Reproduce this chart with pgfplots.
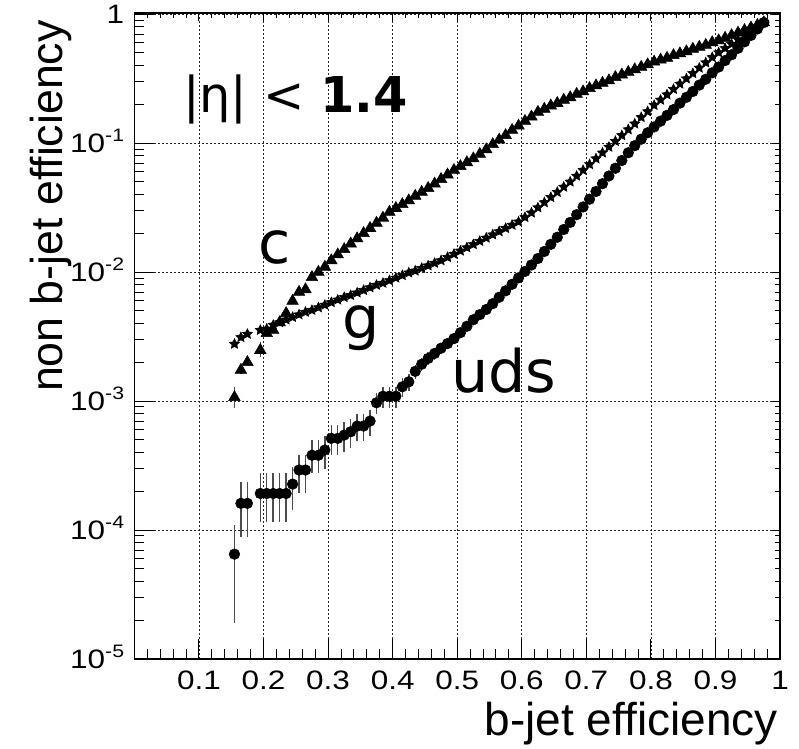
\documentclass[border=0pt]{standalone}
\usepackage{fontspec}
\setmainfont{Liberation Sans}
\newfontfamily\dejavu{DejaVu Sans}
\newfontfamily\tickfont[FakeStretch=1.18]{Liberation Sans}
\usepackage{pgfplots}
\usepackage{pgfplotstable}
\pgfplotsset{compat=1.18}

% filled five-pointed star marker
\pgfdeclareplotmark{fullstar}{%
  \pgfpathmoveto{\pgfpointpolar{90}{\pgfplotmarksize}}%
  \pgfpathlineto{\pgfpointpolar{126}{0.48\pgfplotmarksize}}%
  \pgfpathlineto{\pgfpointpolar{162}{\pgfplotmarksize}}%
  \pgfpathlineto{\pgfpointpolar{198}{0.48\pgfplotmarksize}}%
  \pgfpathlineto{\pgfpointpolar{234}{\pgfplotmarksize}}%
  \pgfpathlineto{\pgfpointpolar{270}{0.48\pgfplotmarksize}}%
  \pgfpathlineto{\pgfpointpolar{306}{\pgfplotmarksize}}%
  \pgfpathlineto{\pgfpointpolar{342}{0.48\pgfplotmarksize}}%
  \pgfpathlineto{\pgfpointpolar{18}{\pgfplotmarksize}}%
  \pgfpathlineto{\pgfpointpolar{54}{0.48\pgfplotmarksize}}%
  \pgfpathclose\pgfusepathqfillstroke}

% power-of-ten tick label: base digits with a raised exponent
\newcommand{\tenpow}[1]{10\raisebox{8pt}{\fontsize{13.5}{13.5}\selectfont #1}}

% b-jet efficiency vs mistag rate for c, g and uds jets
% u: uds efficiency, up/um: its error bars; cp/cm: error bars of c
\pgfplotstableread{
x      c        g         u         up      um      cp      cm
0.155  1.07e-3  2.77e-3   6.5e-5    4.5e-5  4.6e-5  2.2e-4  1.9e-4
0.165  1.74e-3  3.12e-3   1.61e-4   7.6e-5  7.2e-5  1.2e-4  1.2e-4
0.175  2.0e-3   3.31e-3   1.61e-4   7.6e-5  7.2e-5  1.0e-4  1.0e-4
0.195  2.48e-3  3.55e-3   1.92e-4   8.3e-5  7.6e-5  4.0e-4  3.0e-4
0.205  3.35e-3  3.63e-3   1.92e-4   8.3e-5  7.6e-5  0       0
0.215  3.55e-3  3.89e-3   1.92e-4   8.3e-5  7.6e-5  0       0
0.225  4.07e-3  4.07e-3   1.92e-4   8.3e-5  7.6e-5  0       0
0.235  4.79e-3  4.27e-3   1.92e-4   8.3e-5  7.6e-5  0       0
0.245  5.96e-3  4.47e-3   2.27e-4   8.3e-5  8.4e-5  0       0
0.255  7.0e-3   4.68e-3   2.92e-4   8.9e-5  1.0e-4  0       0
0.265  7.33e-3  4.90e-3   2.92e-4   8.9e-5  1.0e-4  0       0
0.275  9.12e-3  5.07e-3   3.8e-4    1.19e-4 1.05e-4 0       0
0.285  1.0e-2   5.31e-3   3.8e-4    1.19e-4 1.05e-4 0       0
0.295  1.096e-2 5.56e-3   4.17e-4   1.2e-4  1.2e-4  0       0
0.305  1.23e-2  5.82e-3   5.14e-4   1.36e-4 1.34e-4 0       0
0.315  1.365e-2 6.10e-3   5.14e-4   1.36e-4 1.34e-4 0       0
0.325  1.50e-2  6.38e-3   5.45e-4   1.4e-4  1.4e-4  0       0
0.335  1.66e-2  6.61e-3   5.78e-4   1.45e-4 1.45e-4 0       0
0.345  1.82e-2  6.92e-3   6.4e-4    1.5e-4  1.5e-4  0       0
0.355  2.0e-2   7.24e-3   6.4e-4    1.5e-4  1.5e-4  0       0
0.365  2.19e-2  7.59e-3   7.0e-4    1.6e-4  1.6e-4  0       0
0.375  2.40e-2  7.94e-3   9.7e-4    1.8e-4  1.8e-4  0       0
0.385  2.63e-2  8.22e-3   1.09e-3   2.0e-4  2.0e-4  0       0
0.395  2.92e-2  8.61e-3   1.09e-3   2.0e-4  2.0e-4  0       0
0.405  3.13e-2  9.02e-3   1.09e-3   2.0e-4  2.0e-4  0       0
0.415  3.35e-2  9.44e-3   1.29e-3   2.1e-4  2.1e-4  0       0
0.425  3.59e-2  9.89e-3   1.41e-3   2.2e-4  2.2e-4  0       0
0.435  3.89e-2  1.023e-2  1.70e-3   2.2e-4  2.2e-4  0       0
0.445  4.17e-2  1.072e-2  1.93e-3   2.3e-4  2.3e-4  0       0
0.455  4.47e-2  1.122e-2  2.14e-3   2.4e-4  2.4e-4  0       0
0.465  4.84e-2  1.175e-2  2.34e-3   2.5e-4  2.5e-4  0       0
0.475  5.25e-2  1.230e-2  2.57e-3   2.6e-4  2.6e-4  0       0
0.485  5.69e-2  1.303e-2  2.79e-3   2.7e-4  2.7e-4  0       0
0.495  6.17e-2  1.380e-2  3.05e-3   2.8e-4  2.8e-4  0       0
0.505  6.61e-2  1.462e-2  3.39e-3   3.0e-4  3.0e-4  0       0
0.515  7.08e-2  1.549e-2  3.80e-3   3.2e-4  3.2e-4  0       0
0.525  7.59e-2  1.641e-2  4.27e-3   3.4e-4  3.4e-4  0       0
0.535  8.22e-2  1.738e-2  4.68e-3   3.6e-4  3.6e-4  0       0
0.545  8.91e-2  1.841e-2  5.13e-3   3.8e-4  3.8e-4  0       0
0.555  9.77e-2  1.950e-2  5.69e-3   4.0e-4  4.0e-4  0       0
0.565  0.106    2.065e-2  6.38e-3   4.2e-4  4.2e-4  0       0
0.575  0.115    2.188e-2  7.16e-3   4.5e-4  4.5e-4  0       0
0.585  0.126    2.317e-2  8.04e-3   4.8e-4  4.8e-4  0       0
0.595  0.136    2.455e-2  9.02e-3   5.0e-4  5.0e-4  0       0
0.605  0.148    2.661e-2  1.012e-2  0       0       0       0
0.615  0.160    2.884e-2  1.135e-2  0       0       0       0
0.625  0.174    3.162e-2  1.274e-2  0       0       0       0
0.635  0.184    3.467e-2  1.445e-2  0       0       0       0
0.645  0.195    3.802e-2  1.641e-2  0       0       0       0
0.655  0.204    4.169e-2  1.862e-2  0       0       0       0
0.665  0.216    4.571e-2  2.138e-2  0       0       0       0
0.675  0.226    5.012e-2  2.427e-2  0       0       0       0
0.685  0.240    5.559e-2  2.786e-2  0       0       0       0
0.695  0.251    6.166e-2  3.199e-2  0       0       0       0
0.705  0.266    6.839e-2  3.673e-2  0       0       0       0
0.715  0.279    7.586e-2  4.217e-2  0       0       0       0
0.725  0.292    8.414e-2  4.842e-2  0       0       0       0
0.735  0.305    9.333e-2  5.559e-2  0       0       0       0
0.745  0.324    0.1035    6.383e-2  0       0       0       0
0.755  0.339    0.1148    7.328e-2  0       0       0       0
0.765  0.355    0.1274    8.414e-2  0       0       0       0
0.775  0.372    0.1413    9.550e-2  0       0       0       0
0.785  0.389    0.1585    0.1072    0       0       0       0
0.795  0.407    0.1758    0.1202    0       0       0       0
0.805  0.427    0.1968    0.1334    0       0       0       0
0.815  0.442    0.2163    0.1479    0       0       0       0
0.825  0.457    0.2377    0.1641    0       0       0       0
0.835  0.479    0.2618    0.1820    0       0       0       0
0.845  0.495    0.2877    0.2042    0       0       0       0
0.855  0.513    0.3162    0.2265    0       0       0       0
0.865  0.537    0.3475    0.2512    0       0       0       0
0.875  0.556    0.3828    0.2818    0       0       0       0
0.885  0.575    0.4207    0.3126    0       0       0       0
0.895  0.603    0.4624    0.3508    0       0       0       0
0.905  0.624    0.5035    0.3890    0       0       0       0
0.915  0.653    0.5433    0.4365    0       0       0       0
0.925  0.684    0.5861    0.4842    0       0       0       0
0.935  0.716    0.6339    0.5433    0       0       0       0
0.945  0.750    0.6839    0.6095    0       0       0       0
0.955  0.785    0.7379    0.6839    0       0       0       0
0.965  0.822    0.7980    0.7674    0       0       0       0
0.975  0.861    0.8610    0.8610    0       0       0       0
}\efftable

\pgfplotsset{
  effaxis/.style={
    scale only axis, width=484.2pt, height=484.5pt,
    xmin=0, xmax=1, ymin=1e-5, ymax=1.02,
    xtick={0.1,0.2,0.3,0.4,0.5,0.6,0.7,0.8,0.9,1},
    minor xtick={0.02,0.04,0.06,0.08,0.12,0.14,0.16,0.18,0.22,0.24,0.26,0.28,
      0.32,0.34,0.36,0.38,0.42,0.44,0.46,0.48,0.52,0.54,0.56,0.58,
      0.62,0.64,0.66,0.68,0.72,0.74,0.76,0.78,0.82,0.84,0.86,0.88,
      0.92,0.94,0.96,0.98},
    ytick={1e-5,1e-4,1e-3,1e-2,1e-1,1},
    minor ytick={2e-5,3e-5,4e-5,5e-5,6e-5,7e-5,8e-5,9e-5,
      2e-4,3e-4,4e-4,5e-4,6e-4,7e-4,8e-4,9e-4,
      2e-3,3e-3,4e-3,5e-3,6e-3,7e-3,8e-3,9e-3,
      2e-2,3e-2,4e-2,5e-2,6e-2,7e-2,8e-2,9e-2,
      0.2,0.3,0.4,0.5,0.6,0.7,0.8,0.9},
    tick align=inside,
    tick style={black, line width=0.7pt},
    axis line style={black, line width=1pt},
  }
}

\begin{document}
\begin{tikzpicture}
\path[use as bounding box] (-100.8pt,-67.5pt) rectangle (498.45pt,494.25pt);
\begin{axis}[
  ymode=log,
  effaxis,
  xtick pos=left, ytick pos=left,
  major tick length=15pt, minor tick length=7.5pt,
  xticklabels={0.1,0.2,0.3,0.4,0.5,0.6,0.7,0.8,0.9,1},
  yticklabels={\tenpow{-5},\tenpow{-4},\tenpow{-3},\tenpow{-2},\tenpow{-1},1},
  ticklabel style={font=\tickfont\fontsize{20}{20}\selectfont},
  xticklabel style={anchor=base, inner sep=0pt, yshift=-22.5pt},
  yticklabel style={anchor=base east, inner sep=0pt, xshift=-7.5pt, yshift=-7.1pt},
  grid=major,
  major grid style={black!85, line width=0.5pt, dash pattern=on 1.5pt off 1.5pt},
  xlabel={b-jet efficiency},
  xlabel style={at={(axis description cs:0.997,0)}, anchor=base east, inner sep=0pt,
    yshift=-57pt, font=\fontsize{34.5}{34.5}\selectfont},
  ylabel={non b-jet efficiency},
  ylabel style={at={(axis description cs:-0.1115,0.989)}, anchor=base east, inner sep=0pt,
    font=\fontsize{33.5}{33.5}\selectfont},
  error bars/error bar style={black!70, line width=1.1pt},
  error bars/error mark=none,
]
\addplot[only marks, black, mark=triangle*, mark size=5pt,
  error bars/.cd, y dir=both, y explicit]
  table[x=x, y=c, y error plus=cp, y error minus=cm] {\efftable};
\addplot[only marks, black, mark=fullstar, mark size=3.9pt, mark options={line width=0.5pt}]
  table[x=x, y=g] {\efftable};
\addplot[only marks, black, mark=*, mark size=4pt,
  error bars/.cd, y dir=both, y explicit]
  table[x=x, y=u, y error plus=up, y error minus=um] {\efftable};

\node[anchor=base west, inner sep=0pt, font=\dejavu\fontsize{37}{37}\selectfont]
  at (axis cs:0.075,0.174) {|η| < \textbf{1.4}};
\node[anchor=base west, inner sep=0pt, font=\dejavu\fontsize{44}{44}\selectfont]
  at (axis cs:0.192,1.17e-2) {c};
\node[anchor=base west, inner sep=0pt, font=\dejavu\fontsize{44}{44}\selectfont]
  at (axis cs:0.322,3.03e-3) {g};
\node[anchor=base west, inner sep=0pt, font=\dejavu\fontsize{44}{44}\selectfont]
  at (axis cs:0.49,1.17e-3) {uds};
\end{axis}
\begin{axis}[
  ymode=log,
  effaxis,
  xtick pos=right, ytick pos=right,
  major tick length=6pt, minor tick length=4pt,
  xticklabels={}, yticklabels={},
]
\end{axis}
\end{tikzpicture}
\end{document}
